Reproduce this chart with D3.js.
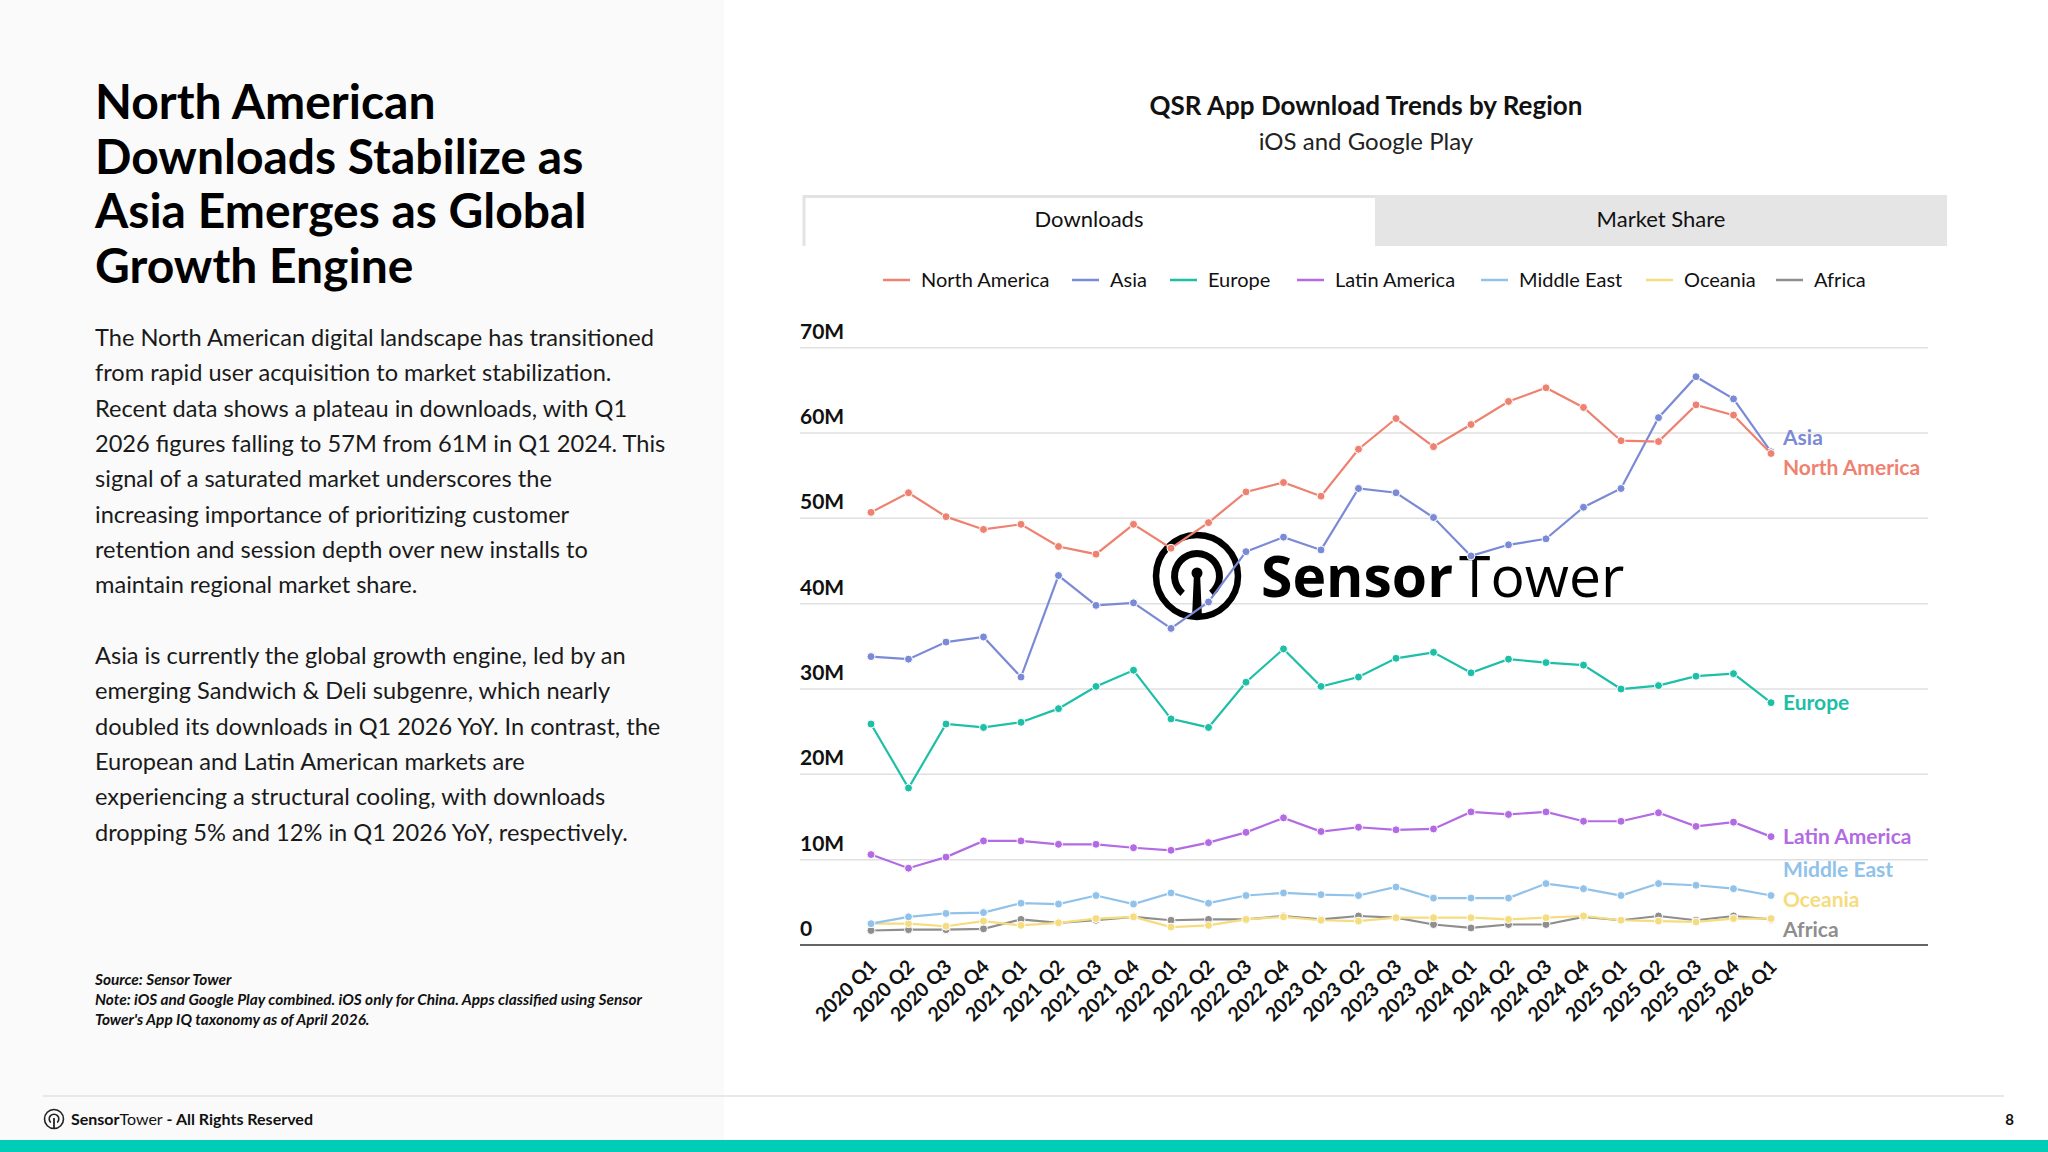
<!DOCTYPE html>
<html>
<head>
<meta charset="utf-8">
<script src="https://cdn.jsdelivr.net/npm/d3@7"></script>
<style>
  body { margin: 0; background: #fff; }
  svg { display: block; font-family: Lato, "Noto Sans", sans-serif; }
</style>
</head>
<body>
<svg id="page" width="2048" height="1152"></svg>
<script>
// DATA
const quarters = ["2020 Q1","2020 Q2","2020 Q3","2020 Q4","2021 Q1","2021 Q2","2021 Q3","2021 Q4",
  "2022 Q1","2022 Q2","2022 Q3","2022 Q4","2023 Q1","2023 Q2","2023 Q3","2023 Q4",
  "2024 Q1","2024 Q2","2024 Q3","2024 Q4","2025 Q1","2025 Q2","2025 Q3","2025 Q4","2026 Q1"]

const regions = ["North America","Asia","Europe","Latin America","Middle East","Oceania","Africa"]
const colors = ["#ee8170","#7b8ad6","#1dbfa7","#b26be2","#90c2ea","#f5dc7e","#8e8e8e"]

// downloads in millions
const northAmerica = [50.7,53.0,50.2,48.7,49.3,46.7,45.8,49.3,46.5,49.5,53.1,54.2,52.6,58.1,61.7,58.4,61.0,63.7,65.3,63.0,59.1,59.0,63.3,62.1,57.6]
const asia = [33.8,33.5,35.5,36.1,31.4,43.3,39.8,40.1,37.1,40.2,46.1,47.8,46.3,53.5,53.0,50.1,45.6,46.9,47.6,51.3,53.5,61.8,66.6,64.0,57.8]
const europe = [25.9,18.4,25.9,25.5,26.1,27.7,30.3,32.2,26.5,25.5,30.8,34.7,30.3,31.4,33.6,34.3,31.9,33.5,33.1,32.8,30.0,30.4,31.5,31.8,28.4]
const latinAmerica = [10.6,9.0,10.3,12.2,12.2,11.8,11.8,11.4,11.1,12.0,13.2,14.9,13.3,13.8,13.5,13.6,15.6,15.3,15.6,14.5,14.5,15.5,13.9,14.4,12.7]
const middleEast = [2.5,3.3,3.7,3.8,4.9,4.8,5.8,4.8,6.1,4.9,5.8,6.1,5.9,5.8,6.8,5.5,5.5,5.5,7.2,6.6,5.8,7.2,7.0,6.6,5.8]
const oceania = [2.5,2.5,2.2,2.8,2.3,2.6,3.1,3.3,2.1,2.3,3.0,3.3,2.9,2.8,3.2,3.2,3.2,3.0,3.2,3.4,2.9,2.8,2.7,3.1,3.1]
const africa = [1.7,1.8,1.8,1.9,3.0,2.6,2.9,3.3,2.9,3.0,3.0,3.4,3.0,3.4,3.2,2.4,2.0,2.4,2.4,3.3,2.9,3.4,2.9,3.4,3.0]

const yTicks = [0,10,20,30,40,50,60,70]
const tabs = ["Downloads","Market Share"]

const headline = ["North American","Downloads Stabilize as","Asia Emerges as Global","Growth Engine"]
const para1 = ["The North American digital landscape has transitioned",
  "from rapid user acquisition to market stabilization.",
  "Recent data shows a plateau in downloads, with Q1",
  "2026 figures falling to 57M from 61M in Q1 2024. This",
  "signal of a saturated market underscores the",
  "increasing importance of prioritizing customer",
  "retention and session depth over new installs to",
  "maintain regional market share."]
const para2 = ["Asia is currently the global growth engine, led by an",
  "emerging Sandwich & Deli subgenre, which nearly",
  "doubled its downloads in Q1 2026 YoY. In contrast, the",
  "European and Latin American markets are",
  "experiencing a structural cooling, with downloads",
  "dropping 5% and 12% in Q1 2026 YoY, respectively."]
const notes = ["Source: Sensor Tower",
  "Note: iOS and Google Play combined. iOS only for China. Apps classified using Sensor",
  "Tower's App IQ taxonomy as of April 2026."]

const seriesValues = [northAmerica, asia, europe, latinAmerica, middleEast, oceania, africa]
const series = regions.map((r, i) => ({ name: r, color: colors[i], values: seriesValues[i] }))

const svg = d3.select("#page")

// PAGE BACKGROUND
svg.append("rect").attr("x", 0).attr("y", 0).attr("width", 724).attr("height", 1152).attr("fill", "#fafafa")
svg.append("rect").attr("x", 0).attr("y", 1140).attr("width", 2048).attr("height", 12).attr("fill", "#00cdb8")
svg.append("line").attr("x1", 43).attr("x2", 2004).attr("y1", 1096).attr("y2", 1096)
  .attr("stroke", "#e2e2e2").attr("stroke-width", 1.5)

// LEFT TEXT
svg.append("g").selectAll("text")
  .data(headline)
  .join("text")
    .attr("x", 95)
    .attr("y", (d, i) => 119 + i * 54.5)
    .attr("font-size", 48)
    .attr("font-weight", 700)
    .attr("fill", "#000")
    .text(d => d)

svg.append("g").selectAll("text")
  .data(para1)
  .join("text")
    .attr("x", 95)
    .attr("y", (d, i) => 346 + i * 35.3)
    .attr("font-size", 23.6)
    .attr("fill", "#1a1a1a")
    .text(d => d)

svg.append("g").selectAll("text")
  .data(para2)
  .join("text")
    .attr("x", 95)
    .attr("y", (d, i) => 664 + i * 35.3)
    .attr("font-size", 23.6)
    .attr("fill", "#1a1a1a")
    .text(d => d)

svg.append("g").selectAll("text")
  .data(notes)
  .join("text")
    .attr("x", 95)
    .attr("y", (d, i) => 985 + i * 20)
    .attr("font-size", 15.4)
    .attr("font-weight", 700)
    .attr("font-style", "italic")
    .attr("fill", "#111")
    .text(d => d)

// FOOTER
const foot = svg.append("g").attr("transform", "translate(54,1119)")
foot.append("circle").attr("r", 9.5).attr("fill", "none").attr("stroke", "#222").attr("stroke-width", 1.6)
foot.append("path").attr("d", d3.arc()({ innerRadius: 4, outerRadius: 5.6, startAngle: -2.4, endAngle: 2.4 })).attr("fill", "#222")
foot.append("line").attr("x1", 0).attr("x2", 0).attr("y1", -1).attr("y2", 9).attr("stroke", "#222").attr("stroke-width", 1.8)
svg.append("text").attr("x", 71).attr("y", 1125).attr("font-size", 16).attr("fill", "#111")
  .call(t => {
    t.append("tspan").attr("font-weight", 700).text("Sensor")
    t.append("tspan").text("Tower")
    t.append("tspan").attr("font-weight", 700).text(" - All Rights Reserved")
  })
svg.append("text").attr("x", 2014).attr("y", 1125).attr("font-size", 15).attr("font-weight", 700)
  .attr("text-anchor", "end").attr("fill", "#111").text("8")

// CHART TITLE
svg.append("text").attr("x", 1366).attr("y", 115).attr("text-anchor", "middle")
  .attr("font-size", 26).attr("font-weight", 700).attr("fill", "#111")
  .text("QSR App Download Trends by Region")
svg.append("text").attr("x", 1366).attr("y", 150).attr("text-anchor", "middle")
  .attr("font-size", 24).attr("fill", "#222")
  .text("iOS and Google Play")

// TABS
const tabScale = d3.scaleBand().domain(tabs).range([803, 1947])
const tabG = svg.append("g")
tabG.selectAll("rect")
  .data(tabs)
  .join("rect")
    .attr("x", d => tabScale(d))
    .attr("y", 195)
    .attr("width", tabScale.bandwidth())
    .attr("height", 51)
    .attr("fill", (d, i) => i === 0 ? "#fff" : "#e5e5e5")
tabG.append("path")
  .attr("d", `M${tabScale(tabs[0]) + 1},246V196.5H${tabScale(tabs[1])}`)
  .attr("fill", "none").attr("stroke", "#e3e3e3").attr("stroke-width", 3)
tabG.selectAll("text")
  .data(tabs)
  .join("text")
    .attr("x", d => tabScale(d) + tabScale.bandwidth() / 2)
    .attr("y", 227)
    .attr("text-anchor", "middle")
    .attr("font-size", 22)
    .attr("fill", "#111")
    .text(d => d)

// LEGEND
const legendX = [883, 1072, 1170, 1297, 1481, 1646, 1776]
const legend = svg.append("g").selectAll("g")
  .data(series)
  .join("g")
    .attr("transform", (d, i) => `translate(${legendX[i]},280)`)
legend.append("line").attr("x1", 0).attr("x2", 27).attr("stroke", d => d.color).attr("stroke-width", 2.5)
legend.append("text").attr("x", 38).attr("y", 7).attr("font-size", 20).attr("fill", "#111").text(d => d.name)

// SCALES
const xScale = d3.scalePoint().domain(quarters).range([871, 1771])
const yScale = d3.scaleLinear().domain([0, 70]).range([945, 347.7])

// GRID + Y LABELS
const grid = svg.append("g")
grid.selectAll("line")
  .data(yTicks)
  .join("line")
    .attr("x1", 800).attr("x2", 1928)
    .attr("y1", d => yScale(d)).attr("y2", d => yScale(d))
    .attr("stroke", d => d === 0 ? "#666" : "#e0e0e0")
    .attr("stroke-width", d => d === 0 ? 2 : 1.5)
grid.selectAll("text")
  .data(yTicks)
  .join("text")
    .attr("x", 800)
    .attr("y", d => yScale(d) - 9)
    .attr("font-size", 21)
    .attr("font-weight", 700)
    .attr("fill", "#111")
    .text(d => d === 0 ? "0" : d + "M")

// X LABELS
svg.append("g").selectAll("text")
  .data(quarters)
  .join("text")
    .attr("transform", d => `translate(${xScale(d) + 7},968) rotate(-45)`)
    .attr("text-anchor", "end")
    .attr("font-size", 19.5)
    .attr("font-weight", 700)
    .attr("fill", "#111")
    .text(d => d)

// WATERMARK
const wm = svg.append("g").attr("transform", "translate(1197,576)")
wm.append("circle").attr("r", 41).attr("fill", "none").attr("stroke", "#000").attr("stroke-width", 6.5)
wm.append("path").attr("d", d3.arc()({ innerRadius: 19, outerRadius: 26, startAngle: -2.45, endAngle: 2.45, cornerRadius: 3 })).attr("fill", "#000")
wm.append("circle").attr("cy", -3).attr("r", 5.5).attr("fill", "#000")
wm.append("path").attr("d", "M-3,-3L3,-3L5,42L-5,42Z").attr("fill", "#000")
svg.append("text").attr("x", 1261).attr("y", 597).attr("font-family", "'Open Sans', sans-serif")
  .attr("font-size", 57).attr("fill", "#000")
  .call(t => {
    t.append("tspan").attr("font-weight", 700).text("Sensor")
    t.append("tspan").attr("dx", 6).text("Tower")
  })

// LINES
const line = d3.line().x((d, i) => xScale(quarters[i])).y(d => yScale(d))
const seriesG = svg.append("g").selectAll("g")
  .data(series.slice().reverse())
  .join("g")
seriesG.append("path")
  .attr("d", d => line(d.values))
  .attr("fill", "none")
  .attr("stroke", d => d.color)
  .attr("stroke-width", 2.2)
seriesG.selectAll("circle")
  .data(d => d.values.map(v => ({ v, color: d.color })))
  .join("circle")
    .attr("cx", (d, i) => xScale(quarters[i]))
    .attr("cy", d => yScale(d.v))
    .attr("r", 4)
    .attr("fill", d => d.color)
    .attr("stroke", "#fff")
    .attr("stroke-width", 1)

// END LABELS (simple collision relaxation)
const labels = series.map(s => ({ name: s.name, color: s.color, y: yScale(s.values[s.values.length - 1]) }))
  .sort((a, b) => a.y - b.y)
const gap = 30
for (let k = 0; k < 200; k++) {
  for (let i = 1; i < labels.length; i++) {
    const d = labels[i].y - labels[i - 1].y
    if (d < gap) {
      const push = (gap - d) / 2
      labels[i].y += push
      labels[i - 1].y -= push
    }
  }
  const last = labels[labels.length - 1]
  if (last.y > 930) last.y = 930
}
svg.append("g").selectAll("text")
  .data(labels)
  .join("text")
    .attr("x", 1783)
    .attr("y", d => d.y)
    .attr("dy", "0.35em")
    .attr("font-size", 21)
    .attr("font-weight", 700)
    .attr("fill", d => d.color)
    .text(d => d.name)
</script>
</body>
</html>
